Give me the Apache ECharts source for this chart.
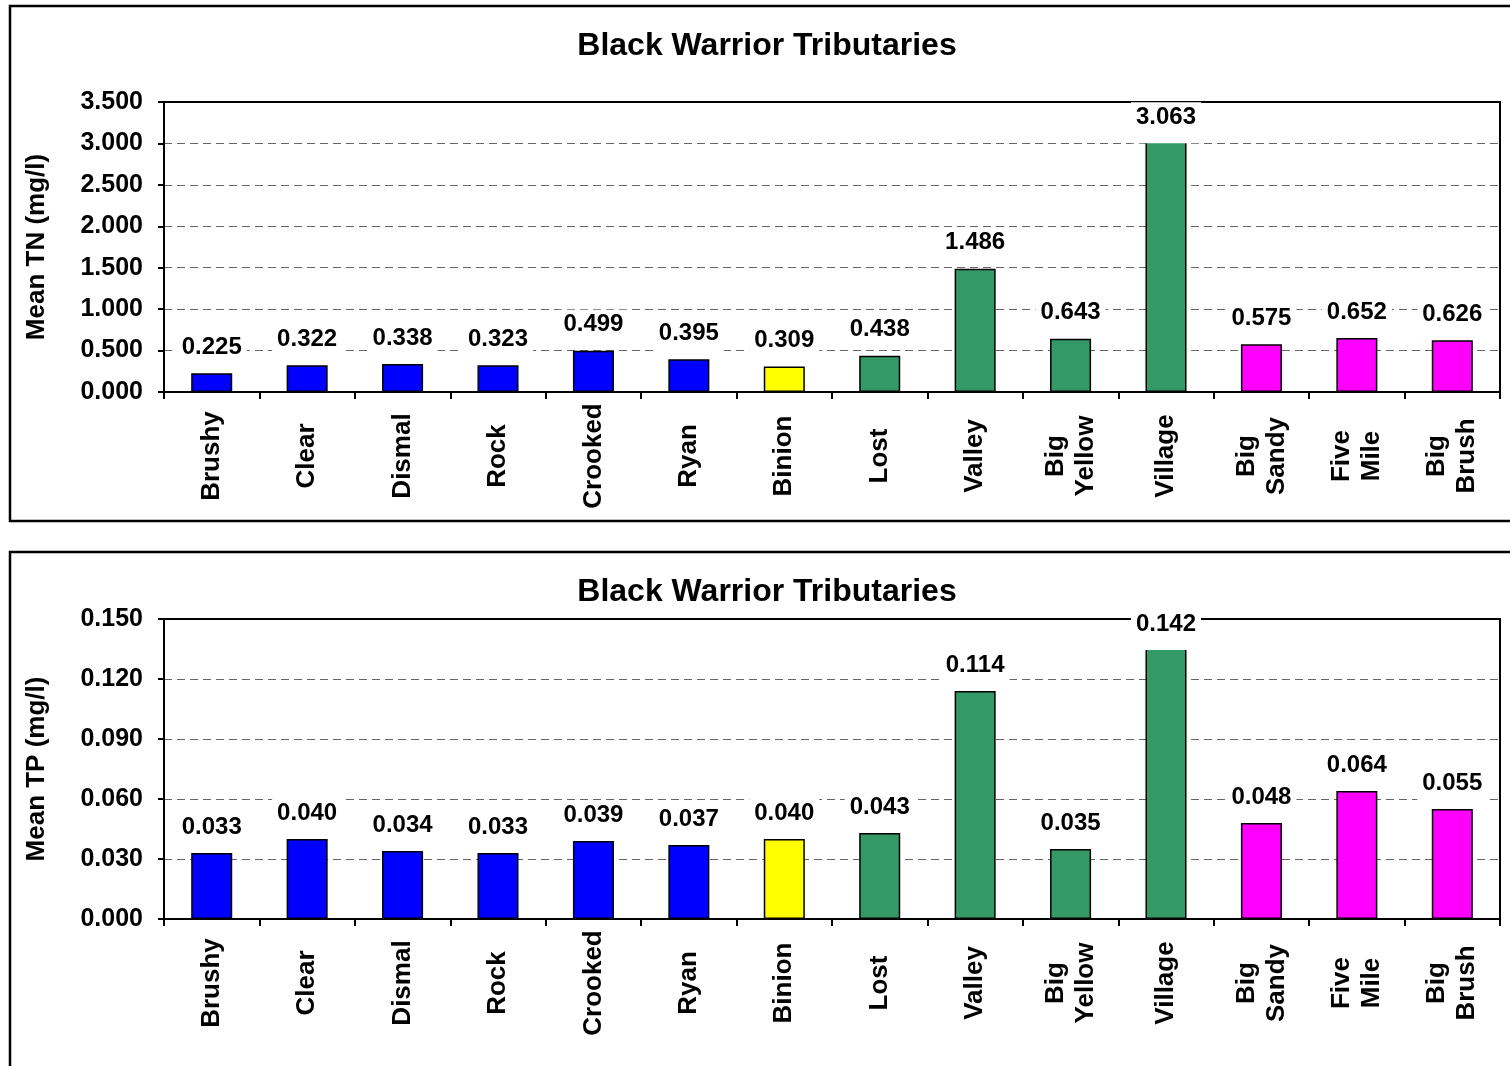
<!DOCTYPE html>
<html>
<head>
<meta charset="utf-8">
<title>Black Warrior Tributaries</title>
<script src="https://cdn.jsdelivr.net/npm/echarts@6/dist/echarts.min.js"></script>
<style>
  html, body { margin: 0; padding: 0; background: #ffffff; }
  #chart { width: 1510px; height: 1066px; }
</style>
</head>
<body>
<div id="chart"></div>
<script>
// Tributary sites, in plotting order
const categories = ['Brushy', 'Clear', 'Dismal', 'Rock', 'Crooked', 'Ryan', 'Binion',
  'Lost', 'Valley', 'Big\nYellow', 'Village', 'Big\nSandy', 'Five\nMile', 'Big\nBrush'];

// Mean total nitrogen (mg/l)
const tnValues = [0.225, 0.322, 0.338, 0.323, 0.499, 0.395, 0.309,
  0.438, 1.486, 0.643, 3.063, 0.575, 0.652, 0.626];

// Mean total phosphorus (mg/l)
const tpValues = [0.033, 0.040, 0.034, 0.033, 0.039, 0.037, 0.040,
  0.043, 0.114, 0.035, 0.142, 0.048, 0.064, 0.055];

// Value-axis tick settings
const tnTicks = { min: 0, max: 3.5, interval: 0.5 };
const tpTicks = { min: 0, max: 0.15, interval: 0.03 };

// Fill colour of each site's bar
const barColors = ['#0000ff', '#0000ff', '#0000ff', '#0000ff', '#0000ff', '#0000ff', '#ffff00',
  '#339966', '#339966', '#339966', '#339966', '#ff00ff', '#ff00ff', '#ff00ff'];

const FONT = 'Liberation Sans, Arial, Helvetica, sans-serif';

function barData(values, tallIndex, tallDistance) {
  return values.map((v, i) => {
    const item = { value: v, itemStyle: { color: barColors[i] } };
    if (i === tallIndex) {
      // the tallest bar's label sits lower, its box overlapping the bar top
      item.label = { distance: tallDistance, padding: [3, 5, 14, 5] };
    }
    return item;
  });
}

function valueAxis(ticks, name, gridIndex) {
  return {
    type: 'value', gridIndex,
    min: ticks.min, max: ticks.max, interval: ticks.interval,
    name, nameLocation: 'middle', nameGap: 114,
    nameTextStyle: { fontFamily: FONT, fontWeight: 'bold', fontSize: 26, color: '#000' },
    axisLine: { show: true, lineStyle: { color: '#000', width: 2 } },
    axisTick: { show: true, length: 6, lineStyle: { color: '#000', width: 2 } },
    axisLabel: {
      margin: 21, fontFamily: FONT, fontWeight: 'bold', fontSize: 25, color: '#000',
      formatter: v => v.toFixed(3)
    },
    splitLine: {
      show: true, showMinLine: false, showMaxLine: false,
      lineStyle: { color: '#666666', width: 1, type: [8, 5] }
    }
  };
}

function categoryAxis(gridIndex) {
  return {
    type: 'category', gridIndex, data: categories,
    axisLine: { show: true, lineStyle: { color: '#000', width: 2 } },
    axisTick: { show: true, length: 7, lineStyle: { color: '#000', width: 2 } },
    axisLabel: {
      interval: 0, rotate: 90, align: 'center', verticalAlign: 'middle', margin: 64,
      fontFamily: FONT, fontWeight: 'bold', fontSize: 26, lineHeight: 30, color: '#000'
    },
    splitLine: { show: false }
  };
}

function barSeries(values, axisIndex, tallDistance) {
  const tallIndex = values.indexOf(Math.max(...values));
  return {
    type: 'bar', xAxisIndex: axisIndex, yAxisIndex: axisIndex,
    data: barData(values, tallIndex, tallDistance),
    barWidth: '43%',
    itemStyle: { borderColor: '#000', borderWidth: 1.5 },
    label: {
      show: true, position: 'top', distance: 8,
      fontFamily: FONT, fontWeight: 'bold', fontSize: 24, lineHeight: 24, color: '#000',
      backgroundColor: '#ffffff', padding: [3, 5, 6, 5],
      formatter: p => p.value.toFixed(3)
    },
    animation: false
  };
}

function titleText(y) {
  return {
    type: 'text', x: 767, y, z: 10,
    style: {
      text: 'Black Warrior Tributaries', fill: '#000',
      font: 'bold 32px ' + FONT, textAlign: 'center', textVerticalAlign: 'middle'
    }
  };
}

function frame(y, h) {
  return {
    type: 'rect', z: 10, silent: true,
    shape: { x: 10, y, width: 1530, height: h },
    style: { fill: 'none', stroke: '#000', lineWidth: 2.5 }
  };
}

const chart = echarts.init(document.getElementById('chart'), null, { renderer: 'canvas' });
chart.setOption({
  backgroundColor: '#ffffff',
  animation: false,
  grid: [
    { left: 164, top: 102, width: 1336, height: 290, show: true, borderColor: '#000', borderWidth: 2, backgroundColor: 'transparent' },
    { left: 164, top: 619, width: 1336, height: 300, show: true, borderColor: '#000', borderWidth: 2, backgroundColor: 'transparent' }
  ],
  xAxis: [categoryAxis(0), categoryAxis(1)],
  yAxis: [valueAxis(tnTicks, 'Mean TN (mg/l)', 0), valueAxis(tpTicks, 'Mean TP (mg/l)', 1)],
  series: [barSeries(tnValues, 0, -5), barSeries(tpValues, 1, -15)],
  graphic: [frame(6, 515), frame(552, 600), titleText(46), titleText(592)]
});
</script>
</body>
</html>
